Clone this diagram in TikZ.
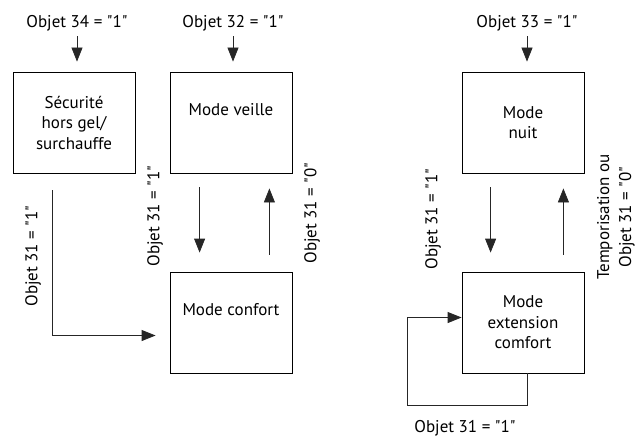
\documentclass[tikz,border=0pt]{standalone}
\usepackage{fontspec}
\setmainfont{PT Sans}[Ligatures=TeXOff]
\usetikzlibrary{arrows.meta,calc}

\tikzset{
  etat/.style={draw, line width=0.8pt, minimum width=122pt, minimum height=101pt,
    align=center, inner sep=0pt, font=\fontsize{17}{20.5}\selectfont},
  fleche/.style={-{Triangle[length=14pt,width=11pt]}, line width=0.8pt, draw=black!85},
  txt/.style={inner sep=0pt, font=\fontsize{17}{22}\selectfont},
}

\begin{document}
\begin{tikzpicture}[x=1pt,y=-1pt]
		\useasboundingbox (0,0) rectangle (636,436);
		
		%%%%% ETATS %%%%%
		\node[etat] (secu) at (74,122.5) {Sécurité\\hors gel/\\surchauffe};
		\node[etat] (veille) at (231,122.5) {Mode veille\\\strut};
		\node[etat] (confort) at (231,322.5) {Mode confort\\\strut};
		\node[etat] (nuit) at (523,122.5) {Mode\\nuit};
		\node[etat] (ext) at (523,322.5) {Mode\\extension\\comfort};
		
		%%%%% ENTREES %%%%%
		\node[txt] (in34) at (77,23) {Objet 34 = "1"};
		\node[txt] (in32) at (233,23) {Objet 32 = "1"};
		\node[txt] (in33) at (527,23) {Objet 33 = "1"};
		
		\draw[fleche, shorten <=5pt, shorten >=10pt] (in34.south) -- (in34.south |- secu.north);
		\draw[fleche, shorten <=5pt, shorten >=10pt] (in32.south) -- (in32.south |- veille.north);
		\draw[fleche, shorten <=5pt, shorten >=10pt] (in33.south) -- (in33.south |- nuit.north);
		
		%%%%% TRANSITIONS %%%%%
		\draw[fleche] ([xshift=40pt,yshift=-17pt]secu.south west) |- ([xshift=-14pt,yshift=-13pt]confort.west);
		\node[txt, rotate=90] (t1) at (33,256) {Objet 31 = "1"};
		
		\draw[fleche] ([xshift=30pt,yshift=-14pt]veille.south west) -- ([xshift=30pt,yshift=19pt]confort.north west);
		\draw[fleche] ([xshift=-23pt,yshift=17pt]confort.north east) -- ([xshift=-23pt,yshift=-15pt]veille.south east);
		\node[txt, rotate=90] (t2) at (155,216) {Objet 31 = "1"};
		\node[txt, rotate=90] (t3) at (312,213) {Objet 31 = "0"};
		
		\draw[fleche] ([xshift=29pt,yshift=-14pt]nuit.south west) -- ([xshift=29pt,yshift=19pt]ext.north west);
		\draw[fleche] ([xshift=-21pt,yshift=17pt]ext.north east) -- ([xshift=-21pt,yshift=-15pt]nuit.south east);
		\node[txt, rotate=90] (t4) at (433,219) {Objet 31 = "1"};
		\node[txt, rotate=90, align=center] (t5) at (616,217) {Temporisation ou\\Objet 31 = "0"};
		
		\coordinate (boucle) at (407,405);
		\draw[fleche] ([xshift=4pt]ext.south) |- (boucle) |- ([yshift=5pt]ext.west);
		\node[txt] (t6) at (465,428) {Objet 31 = "1"};
		
\end{tikzpicture}
\end{document}
